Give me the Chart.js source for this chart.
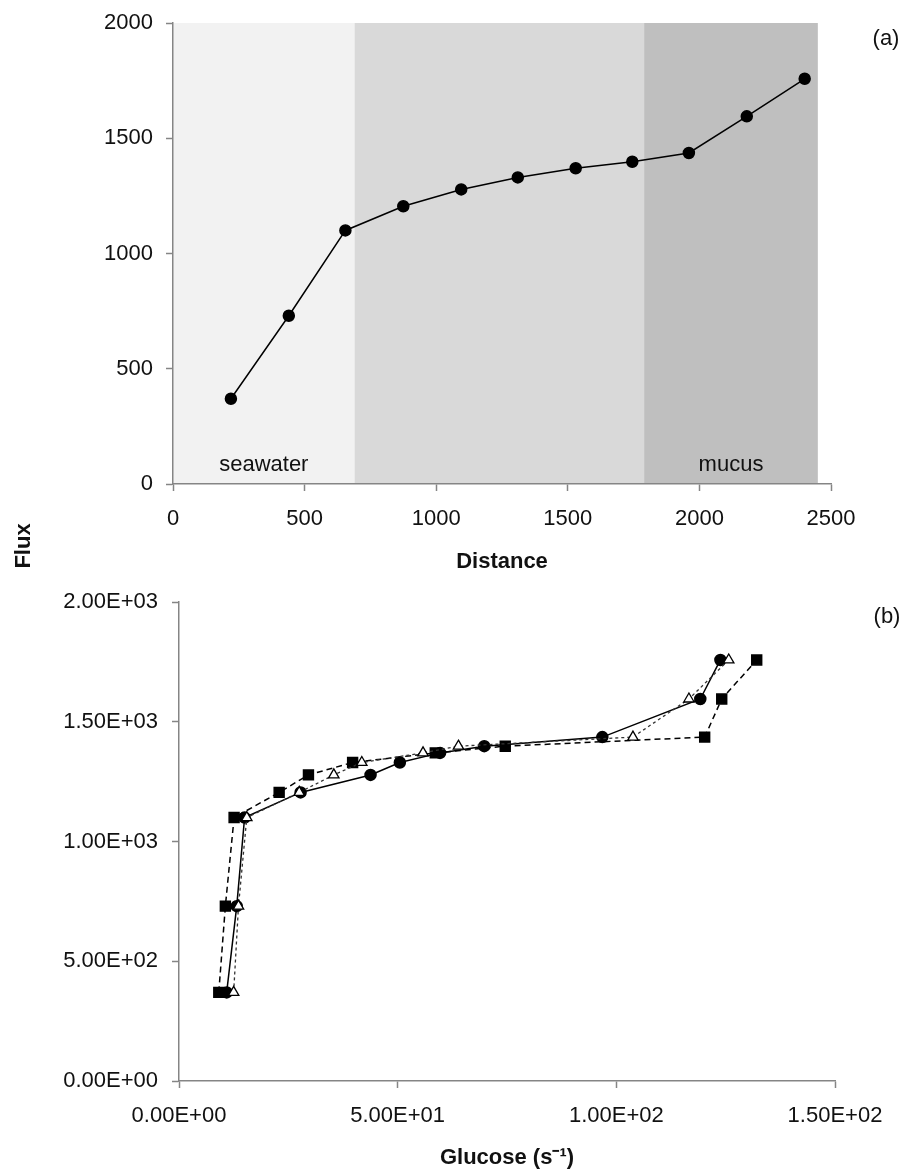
<!DOCTYPE html>
<html>
<head>
<meta charset="utf-8">
<script src="https://cdn.jsdelivr.net/npm/chart.js@4.4.1/dist/chart.umd.min.js"></script>
<style>
  html, body { margin: 0; padding: 0; background: #fff; }
  #page { position: relative; width: 904px; height: 1171px; }
  .panel { position: absolute; left: 0; width: 904px; }
  #panelA { top: 0; height: 585px; }
  #panelB { top: 585px; height: 586px; }
</style>
</head>
<body>
<div id="page">
  <div class="panel" id="panelA"><canvas id="fluxDistance" width="904" height="585"></canvas></div>
  <div class="panel" id="panelB"><canvas id="fluxGlucose" width="904" height="586"></canvas></div>
</div>
<script>
// flux along the transect, shared by both panels
const distance = [220, 440, 655, 875, 1095, 1310, 1530, 1745, 1960, 2180, 2400];
const flux = [370, 730, 1100, 1205, 1278, 1330, 1370, 1398, 1436, 1595, 1758];

// glucose uptake for the three runs in panel (b)
const glucoseCircle = [10.9, 13.2, 15.0, 27.8, 43.8, 50.5, 59.7, 69.8, 96.8, 119.2, 123.8];
const glucoseTriangle = [12.5, 13.6, 15.5, 27.5, 35.4, 41.8, 55.8, 63.9, 103.8, 116.6, 125.7];
const glucoseSquare = [9.1, 10.6, 12.6, 22.9, 29.6, 39.7, 58.6, 74.6, 120.2, 124.1, 132.1];

// distance bands behind panel (a)
const zoneEdges = [0, 690, 1790, 2450];
const zoneNames = ["seawater", "", "mucus"];

const distanceTicks = [0, 500, 1000, 1500, 2000, 2500];
const fluxTicks = [0, 500, 1000, 1500, 2000];
const glucoseTicks = [0, 50, 100, 150];

const FONT = "'Liberation Sans', Arial, Helvetica, sans-serif";
const SIZE = 22;
const AXIS = "#858585";
const INK = "#111";
const zoneFill = ["#f2f2f2", "#d9d9d9", "#bfbfbf"];

const toXY = (xs, ys) => xs.map((x, i) => ({ x: x, y: ys[i] }));

function sci(v) {
  const [m, e] = Number(v).toExponential(2).split("e");
  const sign = e[0] === "-" ? "-" : "+";
  return m + "E" + sign + e.replace(/^[+-]/, "").padStart(2, "0");
}

function axis(min, max, ticks, fmt, fit, title, pad) {
  return {
    type: "linear",
    min: min,
    max: max,
    afterBuildTicks: (s) => { s.ticks = ticks.map((v) => ({ value: v })); },
    afterFit: fit,
    border: { display: true, color: AXIS, width: 1.5 },
    grid: { display: true, drawOnChartArea: false, drawTicks: true, tickLength: 7, tickColor: AXIS, tickWidth: 1.5 },
    ticks: { color: INK, font: { family: FONT, size: SIZE }, padding: pad, maxRotation: 0, callback: fmt },
    title: title
  };
}

// fixed-width y axis; the label overhang is already covered by layout padding
const fixY = (w) => (s) => { s.width = w; s.paddingTop = 0; s.paddingBottom = 0; };

// shaded bands + their names, drawn under the axes
const zonesPlugin = {
  id: "zones",
  beforeDraw(chart) {
    const { ctx, chartArea, scales } = chart;
    ctx.save();
    for (let i = 0; i < zoneEdges.length - 1; i++) {
      const x0 = scales.x.getPixelForValue(zoneEdges[i]);
      const x1 = scales.x.getPixelForValue(zoneEdges[i + 1]);
      ctx.fillStyle = zoneFill[i];
      ctx.fillRect(x0, chartArea.top, x1 - x0, chartArea.bottom - chartArea.top);
    }
    ctx.fillStyle = INK;
    ctx.font = SIZE + "px " + FONT;
    ctx.textAlign = "center";
    ctx.textBaseline = "middle";
    for (let i = 0; i < zoneNames.length; i++) {
      if (!zoneNames[i]) continue;
      const xc = scales.x.getPixelForValue((zoneEdges[i] + zoneEdges[i + 1]) / 2);
      ctx.fillText(zoneNames[i], xc, chartArea.bottom - 19);
    }
    ctx.restore();
  }
};

// panel letter, and the shared "Flux" label on panel (a)
const labelPlugin = {
  id: "panelLabel",
  afterDraw(chart, args, opts) {
    const ctx = chart.ctx;
    ctx.save();
    ctx.fillStyle = INK;
    ctx.font = SIZE + "px " + FONT;
    ctx.textAlign = "center";
    ctx.textBaseline = "middle";
    ctx.fillText(opts.letter, opts.lx, opts.ly);
    if (opts.sideTitle) {
      ctx.font = "bold " + SIZE + "px " + FONT;
      ctx.translate(23.5, 546);
      ctx.rotate(-Math.PI / 2);
      ctx.fillText(opts.sideTitle, 0, 0);
    }
    ctx.restore();
  }
};

const titleFont = { family: FONT, size: SIZE, weight: "bold" };

new Chart(document.getElementById("fluxDistance"), {
  type: "scatter",
  data: {
    datasets: [{
      label: "Flux",
      data: toXY(distance, flux),
      showLine: true,
      borderColor: "#000",
      borderWidth: 1.5,
      pointStyle: "circle",
      pointRadius: 5.5,
      pointBackgroundColor: "#000",
      pointBorderColor: "#000"
    }]
  },
  options: {
    responsive: false,
    animation: false,
    layout: { padding: { top: 23, right: 73, left: 0, bottom: 0 } },
    plugins: {
      legend: { display: false },
      tooltip: { enabled: false },
      panelLabel: { letter: "(a)", lx: 886, ly: 39, sideTitle: "Flux" }
    },
    scales: {
      x: axis(0, 2500, distanceTicks, (v) => String(v), (s) => { s.height = 101; },
        { display: true, text: "Distance", color: INK, font: titleFont, padding: { top: 0, bottom: 10 } }, 15),
      y: axis(0, 2000, fluxTicks, (v) => String(v), fixY(173), { display: false }, 13)
    }
  },
  plugins: [zonesPlugin, labelPlugin]
});

new Chart(document.getElementById("fluxGlucose"), {
  type: "scatter",
  data: {
    datasets: [
      {
        label: "triangles",
        data: toXY(glucoseTriangle, flux),
        showLine: true,
        borderColor: "#333",
        borderWidth: 1.3,
        borderDash: [3, 3],
        pointStyle: "triangle",
        pointRadius: 6,
        pointBackgroundColor: "#fff",
        pointBorderColor: "#000",
        pointBorderWidth: 1.3
      },
      {
        label: "circles",
        data: toXY(glucoseCircle, flux),
        showLine: true,
        borderColor: "#000",
        borderWidth: 1.5,
        pointStyle: "circle",
        pointRadius: 5.5,
        pointBackgroundColor: "#000",
        pointBorderColor: "#000"
      },
      {
        label: "squares",
        data: toXY(glucoseSquare, flux),
        showLine: true,
        borderColor: "#000",
        borderWidth: 1.5,
        borderDash: [6, 4],
        pointStyle: "rect",
        pointRadius: 7,
        pointBackgroundColor: "#000",
        pointBorderColor: "#000"
      }
    ]
  },
  options: {
    responsive: false,
    animation: false,
    layout: { padding: { top: 17, right: 69, left: 0, bottom: 0 } },
    plugins: {
      legend: { display: false },
      tooltip: { enabled: false },
      panelLabel: { letter: "(b)", lx: 887, ly: 32 }
    },
    scales: {
      x: axis(0, 150, glucoseTicks, sci, (s) => { s.height = 90; },
        { display: true, text: "Glucose (s\u207B\u00B9)", color: INK, font: titleFont, padding: { top: 0, bottom: 0 } }, 15),
      y: axis(0, 2000, fluxTicks, sci, fixY(179), { display: false }, 14)
    }
  },
  plugins: [labelPlugin]
});
</script>
</body>
</html>
